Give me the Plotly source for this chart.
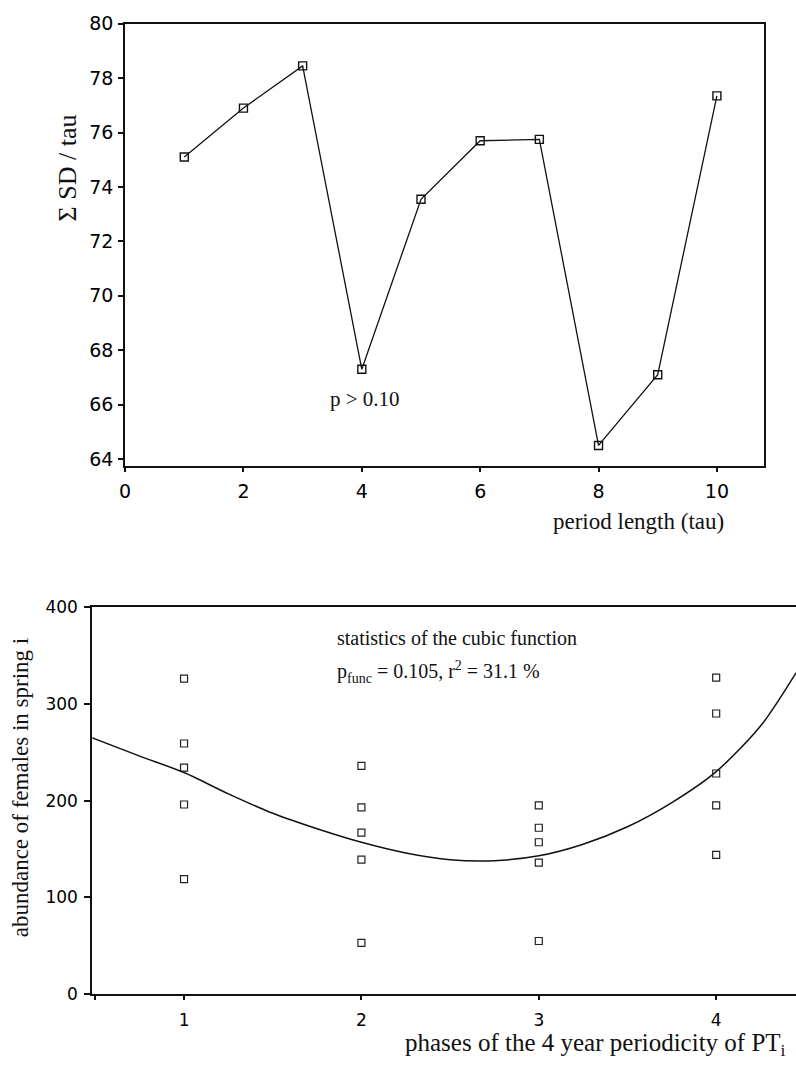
import plotly.graph_objects as go

W, H = 796, 1066

# ---- top panel data ----
tau = [1, 2, 3, 4, 5, 6, 7, 8, 9, 10]
sd_over_tau = [75.1, 76.9, 78.45, 67.3, 73.55, 75.7, 75.75, 64.5, 67.1, 77.35]
top_xticks = [0, 2, 4, 6, 8, 10]
top_yticks = [64, 66, 68, 70, 72, 74, 76, 78, 80]

# ---- bottom panel data ----
phase_x = [1, 1, 1, 1, 1, 2, 2, 2, 2, 2, 3, 3, 3, 3, 3, 4, 4, 4, 4, 4]
abundance = [326, 259, 234, 196, 119,
             236, 193, 167, 139, 53,
             195, 172, 157, 136, 55,
             327, 290, 228, 195, 144]
curve_x = [0.48, 0.75, 1.0, 1.25, 1.5, 1.75, 2.0, 2.25, 2.5, 2.75, 3.0,
           3.25, 3.5, 3.75, 4.0, 4.25, 4.45]
curve_y = [265, 246, 229, 207, 187, 171, 157, 146, 139, 138, 143,
           155, 173, 198, 230, 277, 332]
bot_xticks = [0.5, 1, 2, 3, 4]
bot_xticktext = [" ", "1", "2", "3", "4"]
bot_yticks = [0, 100, 200, 300, 400]


def px(x):
    return x / W


def py(y):
    return 1 - y / H


SERIF = "Liberation Serif, Times New Roman, serif"
SANS = "DejaVu Sans, Arial, sans-serif"

fig = go.Figure()

fig.add_trace(go.Scatter(
    x=tau, y=sd_over_tau, mode="lines+markers", xaxis="x", yaxis="y",
    line=dict(color="#111", width=1.3),
    marker=dict(symbol="square-open", size=8, color="#111", line=dict(width=1.4)),
    showlegend=False,
))

fig.add_trace(go.Scatter(
    x=curve_x, y=curve_y, mode="lines", xaxis="x2", yaxis="y2",
    line=dict(color="#111", width=1.5, shape="spline", smoothing=0.8),
    showlegend=False,
))
fig.add_trace(go.Scatter(
    x=phase_x, y=abundance, mode="markers", xaxis="x2", yaxis="y2",
    marker=dict(symbol="square-open", size=7, color="#222", line=dict(width=1.2)),
    showlegend=False,
))

axis_common = dict(showgrid=False, zeroline=False, showline=True, linecolor="#111",
                   ticks="outside", tickcolor="#111", fixedrange=True)

fig.update_layout(
    width=W, height=H,
    margin=dict(l=0, r=0, t=0, b=0),
    paper_bgcolor="white", plot_bgcolor="white",
    xaxis=dict(**axis_common, domain=[px(120), px(764)], anchor="y",
               range=[0, 10.8], tickvals=top_xticks, mirror=True, linewidth=1.8,
               ticklen=4, tickwidth=2, ticklabelstandoff=3,
               tickfont=dict(family=SANS, size=19, color="#000")),
    yaxis=dict(**axis_common, domain=[py(464), py(13)], anchor="x",
               range=[63.75, 80], tickvals=top_yticks, mirror=True, linewidth=1.8,
               ticklen=5, tickwidth=2, ticklabelstandoff=1,
               tickfont=dict(family=SANS, size=19, color="#000")),
    xaxis2=dict(**axis_common, domain=[px(87), 1.0], anchor="y2",
                range=[0.483, 4.45], tickvals=bot_xticks, ticktext=bot_xticktext,
                mirror=True, linewidth=2, ticklen=4, tickwidth=2, ticklabelstandoff=5,
                tickfont=dict(family=SANS, size=17, color="#000")),
    yaxis2=dict(**axis_common, domain=[py(1003), py(608)], anchor="x2",
                range=[0, 400], tickvals=bot_yticks, mirror=False, linewidth=2,
                ticklen=6, tickwidth=2, ticklabelstandoff=3,
                tickfont=dict(family=SANS, size=17, color="#000")),
    annotations=[
        dict(text="Σ SD / tau", xref="paper", yref="paper", x=px(62), y=py(160),
             textangle=-90, showarrow=False, xanchor="center", yanchor="middle",
             font=dict(family=SERIF, size=26, color="#111")),
        dict(text="period length (tau)", xref="paper", yref="paper", x=px(637), y=py(521),
             showarrow=False, xanchor="center", yanchor="middle",
             font=dict(family=SERIF, size=23, color="#111")),
        dict(text="p > 0.10", xref="x", yref="y", x=4.05, y=66.2,
             showarrow=False, xanchor="center", yanchor="middle",
             font=dict(family=SERIF, size=21, color="#111")),
        dict(text="abundance of females in spring i", xref="paper", yref="paper",
             x=px(15), y=py(792), textangle=-90, showarrow=False,
             xanchor="center", yanchor="middle",
             font=dict(family=SERIF, size=23, color="#111")),
        dict(text="phases of the 4 year periodicity of PT<sub>i</sub>", xref="paper",
             yref="paper", x=px(594), y=py(1054), showarrow=False,
             xanchor="center", yanchor="middle",
             font=dict(family=SERIF, size=25, color="#111")),
        dict(text="statistics of the cubic function", xref="paper", yref="paper",
             x=px(332), y=py(640), showarrow=False, xanchor="left", yanchor="middle",
             font=dict(family=SERIF, size=20, color="#111")),
        dict(text="p<sub>func</sub> = 0.105, r<sup>2</sup> = 31.1 %", xref="paper",
             yref="paper", x=px(332), y=py(674), showarrow=False,
             xanchor="left", yanchor="middle",
             font=dict(family=SERIF, size=20, color="#111")),
    ],
)

fig.write_html("out.html")
